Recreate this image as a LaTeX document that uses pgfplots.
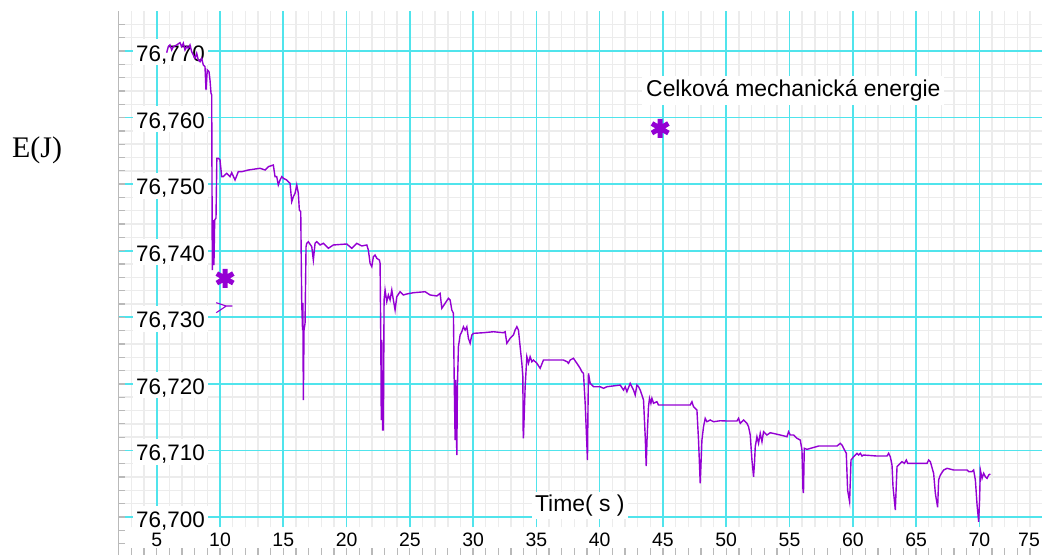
\documentclass[border=0pt]{standalone}
\usepackage{fontspec}
\setmainfont{Liberation Sans}
\newfontfamily\timesfont{Liberation Serif}
\usepackage{xfp}
\usepackage{pgfplots}
\pgfplotsset{compat=1.18}
\definecolor{gridcyan}{RGB}{80,228,236}
\definecolor{gridgray}{RGB}{236,236,236}
\definecolor{curve}{RGB}{148,0,211}
\definecolor{tickgray}{RGB}{185,185,185}
\pgfplotsset{
  base/.style={scale only axis, width=924bp, xmin=1.94, xmax=74.95,
    anchor=south west,
    y coord trafo/.code={%
      \pgfmathfloatparsenumber{##1}%
      \pgfmathfloattofixed{\pgfmathresult}%
      \edef\pgfmathresult{\fpeval{(\pgfmathresult-76.7)*1000}}}},
  gridaxis/.style={base, at={(118bp,28bp)}, height=516.3bp, ymin=76.6985, ymax=76.77605,
    xtick={5,10,...,70},
    minor xtick={2,3,...,74},
    ytick={76.70,76.71,76.72,76.73,76.74,76.75,76.76,76.77},
    minor ytick={76.702,76.704,76.706,76.708,76.712,76.714,76.716,76.718,76.722,76.724,76.726,76.728,76.732,76.734,76.736,76.738,76.742,76.744,76.746,76.748,76.752,76.754,76.756,76.758,76.762,76.764,76.766,76.768,76.772,76.774},
    xticklabels={}, yticklabels={},
    xticklabel style={opacity=0, text opacity=0},
    yticklabel style={opacity=0, text opacity=0},
    tick style={draw=none}, major tick length=0pt, minor tick length=0pt,
    axis line style={draw=none}},
}
\begin{document}
\begin{tikzpicture}
\useasboundingbox (0,0) rectangle (1042bp,555bp);
\fill[white] (0,0) rectangle (1042bp,555bp);
% ---- minor grid
\begin{axis}[gridaxis, grid=minor,
  minor grid style={draw=gridgray, line width=1.4bp}]
\end{axis}
% ---- major grid
\begin{axis}[gridaxis, grid=major,
  major grid style={draw=gridcyan, line width=1.6bp}]
\end{axis}
% ---- ticks and tick labels axis
\begin{axis}[base, at={(118bp,0bp)}, height=544.3bp, ymin=76.6943, ymax=76.77605,
  xtick={5,10,...,70},
  xticklabels={5,10,15,20,25,30,35,40,45,50,55,60,65,70},
  minor xtick={2,3,...,74},
  ytick={76.70,76.71,76.72,76.73,76.74,76.75,76.76,76.77},
  yticklabels={{76,700},{76,710},{76,720},{76,730},{76,740},{76,750},{76,760},{76,770}},
  minor ytick={76.696,76.698,76.702,76.704,76.706,76.708,76.712,76.714,76.716,76.718,76.722,76.724,76.726,76.728,76.732,76.734,76.736,76.738,76.742,76.744,76.746,76.748,76.752,76.754,76.756,76.758,76.762,76.764,76.766,76.768,76.772,76.774},
  axis line style={draw=none},
  tick pos=left, tick align=inside,
  major tick length=7bp, minor tick length=7bp,
  tick style={draw=tickgray, line width=1.3bp},
  yticklabel style={anchor=base west, xshift=15bp, yshift=-10.5bp, fill=white,
    inner xsep=3bp, inner ysep=3bp, text height=19bp, text depth=1bp,
    font=\fontsize{22.5}{24}\selectfont},
  xticklabel style={anchor=base, yshift=8.3bp, inner sep=1bp,
    font=\fontsize{19.5}{21}\selectfont}]
\draw[tickgray, line width=1.5bp] (rel axis cs:0,0) -- (rel axis cs:0,1);
\end{axis}
% ---- data axis
\begin{axis}[base, at={(118bp,28bp)}, height=516.3bp, ymin=76.6985, ymax=76.77605,
  hide axis, clip=false]
\addplot[curve, line width=1.4bp, no marks] coordinates {
(5.787,76.76974) (5.913,76.77065) (6.047,76.77090) (6.182,76.77015) (6.308,76.77065)
(6.577,76.77090) (6.838,76.77125) (6.972,76.77065) (7.099,76.77116) (7.233,76.77015)
(7.368,76.77065) (7.494,76.77041) (7.628,76.77090) (7.763,76.76989) (7.889,76.76940)
(8.023,76.76890) (8.158,76.76965) (8.285,76.76865) (8.419,76.76839) (8.553,76.76890)
(8.680,76.76790) (8.814,76.76764) (8.893,76.76414) (8.996,76.76715) (9.130,76.76689)
(9.209,76.76564) (9.289,76.76365) (9.344,76.76339) (9.391,76.73710) (9.470,76.74461)
(9.520,76.73785) (9.580,76.74461) (9.684,76.74491) (9.750,76.75388) (9.866,76.75388)
(10.000,76.75363) (10.134,76.75112) (10.261,76.75112) (10.530,76.75163) (10.791,76.75112)
(10.925,76.75172) (11.186,76.75062) (11.447,76.75187) (11.715,76.75187) (12.237,76.75212)
(13.162,76.75238) (13.557,76.75212) (13.818,76.75262) (14.213,76.75287) (14.348,76.75112)
(14.482,76.75112) (14.608,76.74987) (14.742,76.75062) (14.877,76.75112) (15.003,76.75088)
(15.272,76.75062) (15.399,76.75037) (15.533,76.75013) (15.668,76.74736) (15.794,76.74811)
(15.929,76.74862) (16.063,76.74987) (16.190,76.74862) (16.269,76.74611) (16.379,76.74586)
(16.458,76.73210) (16.522,76.72809) (16.545,76.73215) (16.585,76.71757) (16.640,76.72809)
(16.719,76.72909) (16.798,76.74060) (16.853,76.74111) (16.980,76.74135) (17.249,76.74060)
(17.375,76.73860) (17.510,76.74111) (17.644,76.74135) (17.905,76.74086) (18.166,76.74111)
(18.561,76.74036) (18.957,76.74086) (20.016,76.74101) (20.411,76.74036) (20.806,76.74111)
(21.201,76.74071) (21.597,76.74086) (21.723,76.74011) (21.857,76.73811) (21.992,76.73760)
(22.118,76.73910) (22.253,76.73935) (22.387,76.73886) (22.593,76.73860) (22.648,76.73811)
(22.703,76.72708) (22.743,76.71457) (22.782,76.72659) (22.846,76.71307) (22.909,76.71307)
(22.964,76.73260) (23.043,76.73410) (23.178,76.73234) (23.304,76.73335) (23.438,76.73260)
(23.573,76.73410) (23.699,76.73260) (23.834,76.73109) (23.968,76.73309) (24.229,76.73384)
(24.490,76.73335) (24.759,76.73350) (25.280,76.73369) (26.205,76.73384) (26.601,76.73335)
(27.130,76.73320) (27.391,76.73360) (27.526,76.73135) (27.787,76.73210) (28.048,76.73285)
(28.182,76.73260) (28.316,76.73109) (28.443,76.73060) (28.498,76.72158) (28.577,76.71156)
(28.616,76.72058) (28.711,76.70931) (28.759,76.71957) (28.838,76.72558) (28.972,76.72734)
(29.107,76.72783) (29.233,76.72858) (29.368,76.72809) (29.502,76.72858) (29.628,76.72684)
(29.763,76.72609) (29.897,76.72734) (30.024,76.72759) (30.814,76.72768) (31.605,76.72783)
(32.395,76.72768) (32.530,76.72783) (32.664,76.72609) (32.925,76.72684) (33.186,76.72734)
(33.320,76.72809) (33.455,76.72858) (33.581,76.72809) (33.715,76.72558) (33.850,76.72309)
(33.929,76.72107) (33.953,76.71307) (33.976,76.71182) (34.111,76.71957) (34.245,76.72408)
(34.371,76.72309) (34.506,76.72408) (34.640,76.72333) (34.767,76.72358) (35.036,76.72309)
(35.296,76.72234) (35.557,76.72358) (36.086,76.72358) (37.138,76.72358) (37.416,76.72333)
(37.533,76.72309) (37.667,76.72358) (37.928,76.72384) (38.197,76.72309) (38.458,76.72234)
(38.592,76.72182) (38.719,76.72158) (38.853,76.71708) (39.035,76.70856) (39.075,76.71607)
(39.114,76.72158) (39.249,76.72008) (39.383,76.71983) (39.510,76.71957) (39.779,76.71957)
(40.040,76.71957) (40.301,76.71933) (40.570,76.71957) (41.622,76.71982) (41.882,76.71907)
(42.017,76.71957) (42.151,76.71882) (42.412,76.72008) (42.673,76.71907) (42.808,76.71832)
(42.942,76.71983) (43.068,76.71957) (43.203,76.71907) (43.337,76.71832) (43.464,76.71757)
(43.598,76.71206) (43.677,76.70766) (43.740,76.71156) (43.858,76.71657) (43.937,76.71783)
(44.048,76.71708) (44.127,76.71783) (44.254,76.71708) (44.522,76.71732) (44.648,76.71682)
(44.783,76.71682) (47.154,76.71682) (47.289,76.71732) (47.415,76.71657) (47.684,76.71607)
(47.810,76.71156) (47.944,76.70506) (48.079,76.71156) (48.205,76.71356) (48.339,76.71482)
(48.474,76.71431) (48.735,76.71457) (48.996,76.71431) (49.525,76.71446) (50.055,76.71442)
(50.845,76.71442) (50.972,76.71482) (51.106,76.71407) (51.367,76.71457) (51.636,76.71407)
(51.763,76.71356) (51.897,76.71232) (52.031,76.70856) (52.158,76.70605) (52.237,76.70826)
(52.292,76.71056) (52.426,76.71206) (52.553,76.71107) (52.687,76.71257) (52.822,76.71131)
(52.948,76.71281) (53.217,76.71232) (53.478,76.71266) (54.268,76.71232) (54.798,76.71206)
(54.924,76.71281) (55.059,76.71232) (55.320,76.71232) (55.589,76.71182) (55.850,76.71156)
(55.984,76.71006) (56.063,76.70405) (56.103,76.70360) (56.166,76.71032) (56.380,76.71016)
(57.297,76.71066) (58.752,76.71066) (59.013,76.71107) (59.147,76.71081) (59.274,76.71032)
(59.486,76.70957) (59.589,76.70405) (59.747,76.70230) (59.858,76.70856) (60.064,76.70905)
(60.333,76.70957) (60.459,76.70931) (60.593,76.70957) (60.728,76.70916) (60.854,76.70931)
(61.913,76.70916) (62.703,76.70916) (62.830,76.70957) (62.964,76.70905) (63.098,76.70781)
(63.177,76.70455) (63.359,76.70105) (63.494,76.70756) (63.755,76.70806) (63.889,76.70831)
(64.071,76.70806) (64.229,76.70856) (64.332,76.70806) (65.866,76.70806) (65.992,76.70856)
(66.126,76.70831) (66.387,76.70656) (66.522,76.70356) (66.703,76.70145) (66.782,76.70556)
(66.917,76.70631) (67.178,76.70706) (67.447,76.70731) (67.969,76.70706) (69.028,76.70706)
(69.155,76.70681) (69.424,76.70681) (69.548,76.70706) (69.685,76.70556) (69.819,76.70180)
(69.946,76.69929) (70.016,76.70255) (70.079,76.70706) (70.213,76.70581) (70.340,76.70656)
(70.474,76.70605) (70.608,76.70581) (70.735,76.70631) (70.869,76.70646)
};
\addplot[only marks, curve, mark=asterisk, mark size=9.5bp, mark options={line width=5bp}]
  coordinates {(10.40,76.73585) (44.78,76.75839)};
\draw[curve, line width=1.1bp] (axis cs:9.70,76.73219) -- (axis cs:10.50,76.73169)
  -- (axis cs:9.70,76.73069) (axis cs:10.50,76.73169) -- (axis cs:10.98,76.73169);
\node[anchor=base, fill=white, inner sep=4bp, font=\fontsize{23}{25}\selectfont]
  at (axis cs:55.30,76.76313) {Celková mechanická energie};
\node[anchor=base, fill=white, inner sep=3bp, font=\fontsize{23}{25}\selectfont]
  at (axis cs:38.43,76.70079) {Time( s )};
\end{axis}
\node[anchor=base west, inner sep=0pt, font=\timesfont\fontsize{30}{32}\selectfont]
  at (12bp,397bp) {E(J)};
\node[anchor=base, inner sep=0pt, font=\fontsize{19.5}{21}\selectfont]
  at (1029bp,8.3bp) {75};
\end{tikzpicture}
\end{document}
